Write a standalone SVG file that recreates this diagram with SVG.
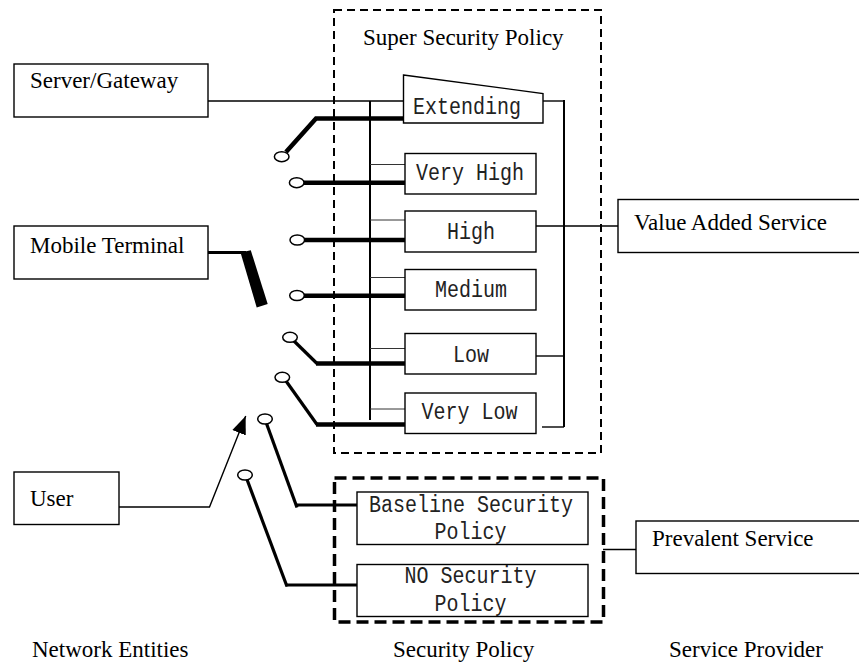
<svg xmlns="http://www.w3.org/2000/svg" width="859" height="664" viewBox="0 0 859 664">
  <style>
    .box { fill: #fff; stroke: #000; stroke-width: 1.4; }
    .serif { font-family: "Liberation Serif", "Times New Roman", serif; font-size: 23px; fill: #000; }
    .mono { font-family: "Liberation Mono", "Courier New", monospace; font-size: 23px; fill: #222; }
    .mid { text-anchor: middle; }
    .thin { fill: none; stroke: #000; stroke-width: 1.4; }
    .tap { fill: none; stroke: #333; stroke-width: 1; }
    .bus { fill: none; stroke: #000; stroke-width: 2; }
    .heavy { fill: none; stroke: #000; stroke-width: 4.5; stroke-linejoin: miter; }
    .medium { fill: none; stroke: #000; stroke-width: 3.2; }
    .port { fill: #fff; stroke: #000; stroke-width: 1.5; }
    .dash { fill: none; stroke: #000; stroke-width: 2; stroke-dasharray: 8 5; }
    .bolddash { fill: none; stroke: #000; stroke-width: 3.5; stroke-dasharray: 12 6; }
  </style>
  <defs>
    <marker id="arrow" viewBox="0 0 10 10" refX="10" refY="5" markerWidth="18" markerHeight="18" markerUnits="userSpaceOnUse" orient="auto">
      <path d="M0,1 L10,5 L0,9 Z" fill="#000"/>
    </marker>
  </defs>
  <rect width="859" height="664" fill="#fff"/>

  <!-- policy group frames -->
  <g id="super-policy">
    <rect class="dash" x="334" y="10" width="267" height="443"/>
    <text class="serif" x="363" y="45">Super Security Policy</text>
  </g>
  <g id="base-policy">
    <rect class="bolddash" x="334.5" y="478" width="269" height="144"/>
  </g>

  <!-- connectors -->
  <g id="connectors">
    <!-- left bus with taps to each level -->
    <line class="bus" x1="370" y1="101" x2="370" y2="420"/>
    <line class="tap" x1="370" y1="164.5" x2="405" y2="164.5"/>
    <line class="tap" x1="370" y1="220" x2="405" y2="220"/>
    <line class="tap" x1="370" y1="277.5" x2="405" y2="277.5"/>
    <line class="tap" x1="370" y1="348.5" x2="405" y2="348.5"/>
    <line class="tap" x1="370" y1="409" x2="405" y2="409"/>
    <!-- server/gateway link -->
    <line class="thin" x1="208" y1="101" x2="404" y2="101"/>
    <!-- right bus -->
    <line class="bus" x1="564" y1="100" x2="564" y2="427"/>
    <line class="thin" x1="543" y1="101" x2="564" y2="101"/>
    <line class="thin" x1="536" y1="356" x2="564" y2="356"/>
    <line class="thin" x1="542" y1="427" x2="564" y2="427"/>
    <line class="thin" x1="536" y1="226" x2="618" y2="226"/>
    <!-- prevalent service link -->
    <line class="thin" x1="603" y1="549.5" x2="636" y2="549.5"/>
    <!-- switch arms -->
    <polyline class="heavy" points="286,152 316,118.5 405,118.5"/>
    <line class="heavy" x1="303" y1="182.7" x2="405" y2="182.7"/>
    <line class="heavy" x1="304" y1="240" x2="405" y2="240"/>
    <line class="heavy" x1="304" y1="295.7" x2="405" y2="295.7"/>
    <polyline class="medium" points="294,341 317,363.5"/>
    <line class="heavy" x1="316" y1="363.5" x2="405" y2="363.5"/>
    <polyline class="medium" points="286,381 317,424.5"/>
    <line class="heavy" x1="316" y1="424.5" x2="405" y2="424.5"/>
    <polyline class="medium" points="266.5,423.5 297,507.5"/>
    <line class="medium" x1="297" y1="505" x2="357" y2="505"/>
    <polyline class="medium" points="247,479.5 287,586.5"/>
    <line class="medium" x1="286" y1="585" x2="357" y2="585"/>
    <!-- port contacts -->
    <ellipse class="port" cx="281.7" cy="156.7" rx="7.3" ry="5"/>
    <ellipse class="port" cx="296.7" cy="182.7" rx="7.3" ry="5"/>
    <ellipse class="port" cx="297.3" cy="240" rx="7.3" ry="5"/>
    <ellipse class="port" cx="297" cy="295.5" rx="7.3" ry="5"/>
    <ellipse class="port" cx="290" cy="337.3" rx="7.3" ry="5"/>
    <ellipse class="port" cx="282.3" cy="377.3" rx="7.3" ry="5"/>
    <ellipse class="port" cx="265" cy="419" rx="7.3" ry="5"/>
    <ellipse class="port" cx="245" cy="475" rx="7.3" ry="5"/>
    <!-- mobile terminal switch -->
    <polyline class="medium" points="208,252.5 246,252.5"/>
    <polygon points="240.5,252.5 250.8,250.3 267.7,304 256.7,307.5" fill="#000"/>
    <!-- user link -->
    <polyline class="thin" points="119,507 209.5,507 245.7,416" marker-end="url(#arrow)"/>
  </g>

  <!-- network entities -->
  <g id="server-gateway">
    <rect class="box" x="14" y="64" width="194" height="53"/>
    <text class="serif" x="30" y="88">Server/Gateway</text>
  </g>
  <g id="mobile-terminal">
    <rect class="box" x="14" y="226" width="194" height="53"/>
    <text class="serif" x="30" y="253">Mobile Terminal</text>
  </g>
  <g id="user">
    <rect class="box" x="14" y="472" width="105" height="52.5"/>
    <text class="serif" x="30" y="505.5">User</text>
  </g>

  <!-- security levels -->
  <g id="extending">
    <polygon class="box" points="403.5,75 543,93.5 543,123 403.5,123"/>
    <text class="mono" x="413" y="114" textLength="108" lengthAdjust="spacingAndGlyphs">Extending</text>
  </g>
  <g id="very-high">
    <rect class="box" x="405" y="153.5" width="131" height="40.5"/>
    <text class="mono mid" x="470" y="180" textLength="108" lengthAdjust="spacingAndGlyphs">Very High</text>
  </g>
  <g id="high">
    <rect class="box" x="405" y="211" width="131" height="41"/>
    <text class="mono mid" x="471" y="239" textLength="48" lengthAdjust="spacingAndGlyphs">High</text>
  </g>
  <g id="medium">
    <rect class="box" x="405" y="269.5" width="131" height="40.5"/>
    <text class="mono mid" x="471" y="296.5" textLength="72" lengthAdjust="spacingAndGlyphs">Medium</text>
  </g>
  <g id="low">
    <rect class="box" x="405" y="333.5" width="131" height="40.5"/>
    <text class="mono mid" x="471" y="361.5" textLength="36" lengthAdjust="spacingAndGlyphs">Low</text>
  </g>
  <g id="very-low">
    <rect class="box" x="405" y="393" width="131" height="40.5"/>
    <text class="mono mid" x="469.5" y="419" textLength="96" lengthAdjust="spacingAndGlyphs">Very Low</text>
  </g>
  <g id="baseline">
    <rect class="box" x="357" y="492" width="231" height="52.5"/>
    <text class="mono mid" x="471" y="511.5" textLength="204" lengthAdjust="spacingAndGlyphs">Baseline Security</text>
    <text class="mono mid" x="470.5" y="539" textLength="72" lengthAdjust="spacingAndGlyphs">Policy</text>
  </g>
  <g id="no-security">
    <rect class="box" x="357" y="564.5" width="231" height="52"/>
    <text class="mono mid" x="470.5" y="583" textLength="132" lengthAdjust="spacingAndGlyphs">NO Security</text>
    <text class="mono mid" x="470.5" y="610.5" textLength="72" lengthAdjust="spacingAndGlyphs">Policy</text>
  </g>

  <!-- service providers -->
  <g id="value-added">
    <rect class="box" x="618" y="199.5" width="250" height="53"/>
    <text class="serif" x="634" y="230">Value Added Service</text>
  </g>
  <g id="prevalent">
    <rect class="box" x="636" y="521" width="232" height="52.5"/>
    <text class="serif" x="652" y="546">Prevalent Service</text>
  </g>

  <!-- column captions -->
  <g id="captions">
    <text class="serif" x="32" y="657">Network Entities</text>
    <text class="serif" x="393" y="657">Security Policy</text>
    <text class="serif" x="669" y="657">Service Provider</text>
  </g>
</svg>
